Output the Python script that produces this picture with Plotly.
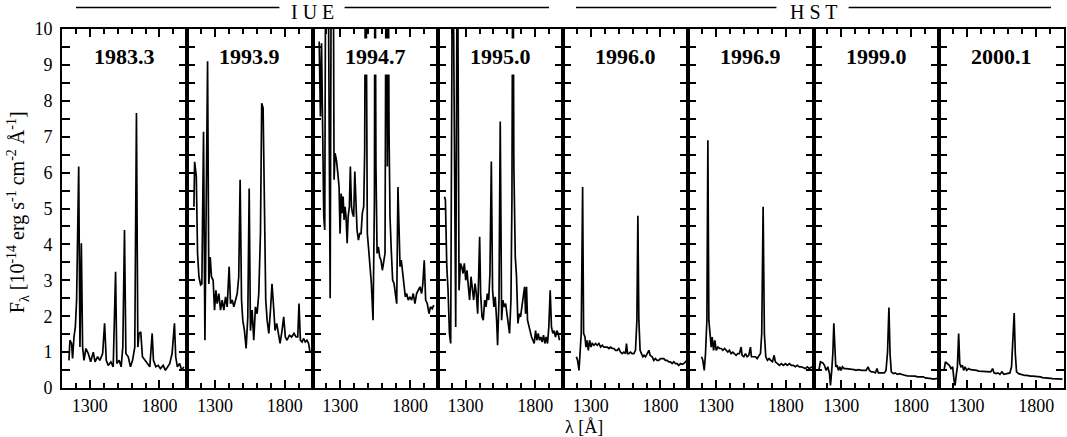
import plotly.graph_objects as go
from plotly.subplots import make_subplots

epochs = ["1983.3", "1993.9", "1994.7", "1995.0", "1996.0", "1996.9", "1999.0", "2000.1"]
groups = ["I U E", "H S T"]
x_ticks = [1300, 1800]

# IUE 1983.3
wl_1983 = [1150, 1157, 1169, 1176, 1186, 1196, 1205, 1220, 1229, 1239,
           1248, 1258, 1272, 1289, 1306, 1325, 1337, 1356, 1372, 1392,
           1406, 1418, 1432, 1451, 1468, 1485, 1494, 1511, 1525, 1537,
           1549, 1559, 1576, 1592, 1607, 1623, 1635, 1645, 1654, 1666,
           1678, 1695, 1712, 1731, 1748, 1757, 1774, 1791, 1807, 1827,
           1843, 1860, 1874, 1891, 1908, 1917, 1929, 1946, 1960, 1975]
fx_1983 = [0.77, 1.33, 1.24, 0.82, 1.42, 1.70, 2.45, 6.17, 1.14, 4.03,
           1.14, 0.77, 1.10, 0.96, 0.73, 1.00, 0.73, 0.87, 0.77, 0.96,
           1.80, 0.77, 0.63, 0.73, 0.59, 3.24, 0.68, 0.77, 0.59, 1.14,
           4.40, 0.96, 0.87, 0.59, 0.77, 1.14, 7.66, 1.14, 1.52, 1.56,
           0.87, 0.77, 0.68, 0.59, 1.52, 0.77, 0.59, 0.63, 0.54, 0.63,
           0.49, 0.59, 0.68, 0.96, 1.80, 0.87, 0.59, 0.68, 0.49, 0.59]

# IUE 1993.9
wl_1993 = [1148, 1153, 1165, 1174, 1184, 1196, 1205, 1217, 1227, 1236,
           1246, 1255, 1265, 1274, 1286, 1296, 1306, 1315, 1327, 1339,
           1351, 1363, 1375, 1387, 1401, 1411, 1423, 1435, 1447, 1459,
           1470, 1480, 1490, 1499, 1511, 1523, 1535, 1545, 1554, 1566,
           1578, 1590, 1602, 1614, 1626, 1635, 1645, 1655, 1664, 1674,
           1686, 1698, 1709, 1719, 1731, 1743, 1755, 1767, 1781, 1793,
           1805, 1817, 1834, 1850, 1867, 1882, 1894, 1903, 1913, 1925,
           1936, 1948, 1960, 1972, 1982]
fx_1993 = [5.05, 6.30, 5.90, 3.75, 3.10, 2.87, 2.90, 7.14, 1.33, 5.24,
           9.10, 2.90, 3.65, 3.10, 3.00, 2.17, 2.72, 2.35, 2.63, 2.17,
           2.45, 2.17, 2.54, 2.26, 3.38, 2.35, 2.45, 2.26, 2.45, 2.63,
           3.10, 5.80, 2.45, 1.89, 1.60, 1.10, 1.98, 5.56, 1.60, 2.17,
           1.33, 2.26, 2.07, 2.63, 4.30, 7.93, 7.80, 4.30, 2.45, 1.89,
           1.52, 2.17, 2.90, 2.35, 1.60, 1.80, 1.52, 1.24, 1.60, 1.98,
           1.42, 1.33, 1.47, 1.42, 1.52, 1.42, 1.42, 2.35, 1.33, 1.28,
           1.38, 1.28, 1.33, 1.24, 1.00]

# IUE 1994.7 (strongest lines run off the top)
wl_1994 = [1148, 1157, 1165, 1172, 1181, 1188, 1196, 1205, 1210, 1227,
           1236, 1248, 1255, 1262, 1272, 1282, 1291, 1298, 1306, 1313,
           1320, 1327, 1334, 1341, 1349, 1356, 1365, 1372, 1380, 1387,
           1396, 1404, 1411, 1420, 1430, 1439, 1449, 1458, 1468, 1475,
           1482, 1494, 1504, 1513, 1523, 1535, 1545, 1549, 1556, 1564,
           1573, 1583, 1592, 1602, 1611, 1621, 1630, 1638, 1643, 1650,
           1657, 1666, 1676, 1686, 1695, 1705, 1714, 1721, 1729, 1738,
           1748, 1757, 1767, 1776, 1788, 1800, 1812, 1824, 1836, 1848,
           1860, 1872, 1884, 1893, 1903, 1913, 1925, 1937, 1948, 1960,
           1972]
fx_1994 = [9.65, 7.56, 9.60, 8.00, 4.77, 4.40, 14.0, 14.0, 14.0, 2.50,
           14.0, 14.0, 5.80, 6.54, 6.35, 5.98, 5.60, 4.30, 5.42, 4.87,
           5.33, 4.68, 5.05, 4.77, 4.03, 4.77, 5.05, 6.17, 5.05, 4.87,
           4.77, 6.03, 5.14, 4.40, 4.12, 4.30, 4.30, 4.87, 5.05, 6.63,
           14.0, 4.30, 3.84, 3.47, 2.91, 1.89, 5.24, 14.0, 6.17, 3.75,
           3.93, 3.65, 3.56, 3.28, 3.56, 3.75, 14.0, 6.17, 14.0, 7.10,
           4.77, 3.84, 3.00, 2.91, 2.63, 2.35, 5.60, 4.12, 3.38, 3.56,
           3.19, 2.91, 2.54, 2.63, 2.45, 2.54, 2.45, 2.63, 2.35, 2.63,
           2.72, 2.82, 2.63, 2.91, 3.56, 2.45, 2.35, 2.07, 2.26, 2.21,
           2.31]

# IUE 1995.0
wl_1995 = [1148, 1155, 1165, 1174, 1184, 1193, 1207, 1229, 1241, 1253,
           1263, 1272, 1282, 1291, 1301, 1310, 1320, 1329, 1339, 1349,
           1358, 1368, 1377, 1387, 1394, 1401, 1408, 1418, 1427, 1437,
           1447, 1456, 1466, 1475, 1485, 1494, 1504, 1513, 1523, 1530,
           1540, 1549, 1559, 1568, 1578, 1588, 1597, 1607, 1616, 1626,
           1633, 1640, 1647, 1657, 1666, 1676, 1686, 1695, 1705, 1714,
           1724, 1731, 1738, 1745, 1755, 1764, 1774, 1784, 1793, 1803,
           1812, 1822, 1831, 1841, 1850, 1860, 1870, 1879, 1889, 1898,
           1908, 1917, 1927, 1936, 1946, 1956, 1965, 1975]
fx_1995 = [5.33, 5.24, 3.38, 2.72, 1.52, 1.24, 14.0, 1.70, 14.0, 2.72,
           3.47, 3.38, 3.19, 3.47, 3.00, 3.28, 2.82, 2.45, 3.10, 2.72,
           2.45, 2.91, 2.63, 2.07, 3.19, 4.21, 2.63, 1.98, 1.89, 2.45,
           2.26, 2.63, 2.45, 3.19, 6.31, 2.72, 2.26, 2.54, 1.89, 1.19,
           2.45, 7.42, 1.89, 2.45, 2.26, 2.35, 2.07, 1.70, 1.52, 2.45,
           5.24, 14.0, 6.17, 3.66, 3.10, 1.80, 2.07, 1.98, 2.26, 2.45,
           2.82, 2.07, 2.82, 1.89, 1.70, 1.60, 1.42, 1.33, 1.24, 1.60,
           1.33, 1.52, 1.33, 1.42, 1.28, 1.47, 1.24, 1.42, 1.24, 1.70,
           2.72, 1.70, 1.52, 1.60, 1.42, 1.60, 1.52, 1.33]

# HST 1996.0
wl_1996a = [1196, 1205, 1215, 1224, 1231, 1241, 1248, 1258, 1265, 1272,
            1282, 1291, 1301, 1310, 1322, 1334, 1346, 1358, 1370, 1382,
            1394, 1406, 1418, 1430, 1442, 1454, 1466, 1478, 1490, 1501,
            1513, 1525, 1537, 1549, 1556, 1564, 1573, 1585, 1597, 1609,
            1621, 1631, 1638, 1645, 1654, 1664, 1674, 1683, 1693, 1705,
            1717, 1726, 1741, 1752, 1764, 1776, 1788, 1800, 1812, 1824,
            1836, 1848, 1860, 1872, 1884, 1896, 1908, 1920, 1932, 1944,
            1956, 1968, 1980, 1991]
fx_1996a = [0.87, 0.77, 0.49, 0.96, 1.52, 5.60, 1.52, 1.42, 1.14, 1.33,
            1.05, 1.33, 1.14, 1.24, 1.19, 1.24, 1.19, 1.24, 1.14, 1.19,
            1.14, 1.14, 1.14, 1.10, 1.14, 1.10, 1.10, 1.05, 1.05, 1.10,
            1.00, 0.96, 1.00, 0.96, 1.24, 0.96, 0.96, 1.00, 0.96, 0.96,
            1.05, 1.89, 4.80, 1.89, 1.05, 0.96, 0.87, 0.91, 0.87, 0.96,
            1.05, 0.91, 0.87, 0.77, 0.82, 0.77, 0.77, 0.82, 0.82, 0.82,
            0.77, 0.77, 0.73, 0.73, 0.68, 0.73, 0.68, 0.68, 0.63, 0.68,
            0.66, 0.68, 0.73, 0.77]

# HST 1996.9
wl_1996b = [1196, 1205, 1215, 1224, 1234, 1241, 1248, 1258, 1265, 1272,
            1282, 1291, 1301, 1313, 1325, 1337, 1349, 1361, 1372, 1384,
            1396, 1408, 1420, 1432, 1444, 1456, 1468, 1480, 1487, 1499,
            1511, 1523, 1535, 1547, 1554, 1566, 1583, 1595, 1607, 1619,
            1628, 1638, 1647, 1657, 1669, 1681, 1693, 1705, 1717, 1726,
            1741, 1755, 1769, 1784, 1798, 1812, 1827, 1841, 1855, 1870,
            1884, 1898, 1913, 1927, 1941, 1956, 1970, 1989]
fx_1996b = [0.87, 0.77, 0.49, 0.96, 1.89, 6.90, 1.89, 1.42, 1.14, 1.42,
            1.05, 1.33, 1.05, 1.14, 1.10, 1.10, 1.05, 1.10, 1.05, 1.00,
            1.05, 0.96, 1.00, 0.96, 0.91, 0.96, 0.96, 1.14, 0.91, 0.87,
            0.96, 0.87, 0.91, 1.14, 0.87, 0.87, 0.87, 0.82, 0.91, 0.96,
            1.52, 5.05, 1.52, 0.87, 0.77, 0.82, 0.77, 0.73, 0.91, 0.73,
            0.68, 0.63, 0.68, 0.63, 0.68, 0.63, 0.68, 0.63, 0.63, 0.59,
            0.63, 0.59, 0.59, 0.57, 0.54, 0.59, 0.54, 0.59]

# HST 1999.0
wl_1999 = [1138, 1150, 1167, 1179, 1191, 1203, 1215, 1222, 1231, 1239,
           1246, 1253, 1260, 1270, 1279, 1289, 1298, 1308, 1320, 1334,
           1349, 1363, 1377, 1392, 1406, 1420, 1435, 1449, 1463, 1478,
           1492, 1502, 1516, 1530, 1545, 1556, 1566, 1580, 1595, 1609,
           1621, 1632, 1642, 1650, 1659, 1674, 1688, 1702, 1717, 1731,
           1745, 1760, 1774, 1788, 1803, 1817, 1831, 1846, 1860, 1874,
           1889, 1903, 1917, 1932, 1946, 1960, 1980, 1994]
fx_1999 = [0.49, 0.73, 0.70, 0.63, 0.49, 0.59, 0.40, 0.07, 0.49, 0.96,
           1.80, 0.96, 0.59, 0.63, 0.49, 0.59, 0.49, 0.59, 0.54, 0.54,
           0.54, 0.54, 0.52, 0.51, 0.49, 0.51, 0.49, 0.49, 0.49, 0.49,
           0.59, 0.49, 0.45, 0.45, 0.42, 0.54, 0.42, 0.42, 0.42, 0.42,
           0.49, 1.00, 2.24, 0.96, 0.45, 0.40, 0.42, 0.38, 0.40, 0.38,
           0.35, 0.35, 0.34, 0.34, 0.33, 0.33, 0.33, 0.31, 0.31, 0.29,
           0.31, 0.28, 0.28, 0.26, 0.26, 0.25, 0.25, 0.27]

# HST 2000.1
wl_2000 = [1138, 1148, 1162, 1176, 1188, 1200, 1210, 1217, 1227, 1234,
           1243, 1251, 1260, 1270, 1279, 1289, 1301, 1315, 1329, 1344,
           1358, 1372, 1387, 1401, 1415, 1430, 1444, 1459, 1473, 1487,
           1497, 1511, 1525, 1540, 1554, 1568, 1583, 1597, 1611, 1623,
           1632, 1642, 1650, 1659, 1674, 1688, 1702, 1717, 1731, 1745,
           1760, 1774, 1788, 1803, 1817, 1831, 1846, 1860, 1874, 1889,
           1903, 1917, 1932, 1946, 1960, 1975, 1989]
fx_2000 = [0.49, 0.73, 0.68, 0.63, 0.54, 0.59, 0.21, 0.07, 0.40, 0.59,
           1.52, 0.68, 0.59, 0.63, 0.49, 0.59, 0.49, 0.54, 0.51, 0.51,
           0.49, 0.49, 0.47, 0.47, 0.47, 0.45, 0.45, 0.45, 0.45, 0.54,
           0.42, 0.40, 0.42, 0.38, 0.45, 0.38, 0.40, 0.40, 0.42, 0.59,
           1.30, 2.09, 0.96, 0.45, 0.40, 0.38, 0.36, 0.35, 0.35, 0.33,
           0.33, 0.33, 0.33, 0.31, 0.31, 0.31, 0.29, 0.29, 0.28, 0.28,
           0.27, 0.26, 0.26, 0.25, 0.25, 0.27, 0.25]

spectra = [(wl_1983, fx_1983), (wl_1993, fx_1993), (wl_1994, fx_1994), (wl_1995, fx_1995),
           (wl_1996a, fx_1996a), (wl_1996b, fx_1996b), (wl_1999, fx_1999), (wl_2000, fx_2000)]

SERIF = "Liberation Serif"

fig = make_subplots(rows=1, cols=8, horizontal_spacing=0)

for i, (wl, fx) in enumerate(spectra):
    col = i + 1
    fig.add_trace(go.Scatter(x=wl, y=fx, mode="lines", line=dict(color="black", width=1.7),
                             showlegend=False, hoverinfo="skip"), row=1, col=col)
    fig.update_xaxes(range=[1100, 2000], tickvals=x_ticks, ticks="inside", ticklen=8, tickwidth=1.5,
                     showline=True, linewidth=2, linecolor="black", mirror="ticks",
                     minor=dict(dtick=100, tick0=1100, ticks="inside", ticklen=5, tickwidth=1.5,
                                tickcolor="black"),
                     tickcolor="black", showgrid=False, zeroline=False,
                     tickfont=dict(family=SERIF, size=18, color="black"), row=1, col=col)
    fig.update_yaxes(range=[0, 10], dtick=1, ticks="inside", ticklen=8, tickwidth=1.5,
                     showline=True, linewidth=2, linecolor="black", mirror="ticks",
                     minor=dict(dtick=0.5, ticks="inside", ticklen=8, tickwidth=1.5, tickcolor="black"),
                     tickcolor="black", showgrid=False, zeroline=False,
                     showticklabels=(i == 0), ticklabelstandoff=4,
                     tickfont=dict(family=SERIF, size=18, color="black"), row=1, col=col)
    sfx = "" if i == 0 else str(col)
    fig.add_annotation(x=1550, y=9.23, xref="x" + sfx, yref="y" + sfx, text="<b>" + epochs[i] + "</b>",
                       showarrow=False, bgcolor="white", borderpad=5, xanchor="center",
                       font=dict(family=SERIF, size=22, color="black"))

# IUE / HST group headers with rules either side
for label, xc, segs in [(groups[0], 0.25, [(0.014, 0.217), (0.282, 0.486)]),
                        (groups[1], 0.75, [(0.513, 0.713), (0.785, 0.987)])]:
    fig.add_annotation(x=xc, y=1.08, xref="paper", yref="paper", text=label, showarrow=False,
                       xanchor="center", yanchor="top", borderpad=0,
                       font=dict(family=SERIF, size=20, color="black"))
    for x0, x1 in segs:
        fig.add_shape(type="line", xref="paper", yref="paper", x0=x0, x1=x1, y0=1.06, y1=1.06,
                      line=dict(color="black", width=1.5))

fig.add_annotation(x=-0.0438, y=0.49, xref="paper", yref="paper", textangle=-90, showarrow=False,
                   xanchor="center", yanchor="middle",
                   text="F<sub>λ</sub> [10<sup>-14</sup> erg s<sup>-1</sup> cm<sup>-2</sup> Å<sup>-1</sup>]",
                   font=dict(family=SERIF, size=20, color="black"))
fig.add_annotation(x=0.521, y=-0.075, xref="paper", yref="paper", xanchor="center", yanchor="top",
                   showarrow=False, text="λ [Å]", font=dict(family=SERIF, size=18, color="black"))

fig.update_layout(width=1067, height=437, margin=dict(l=62, r=1, t=29, b=49),
                  paper_bgcolor="white", plot_bgcolor="white")

# drop the page's default body margin so the figure sits at the window corner
fig.write_html("out.html", config={"displayModeBar": False},
               post_script="document.body.style.margin='0';")
